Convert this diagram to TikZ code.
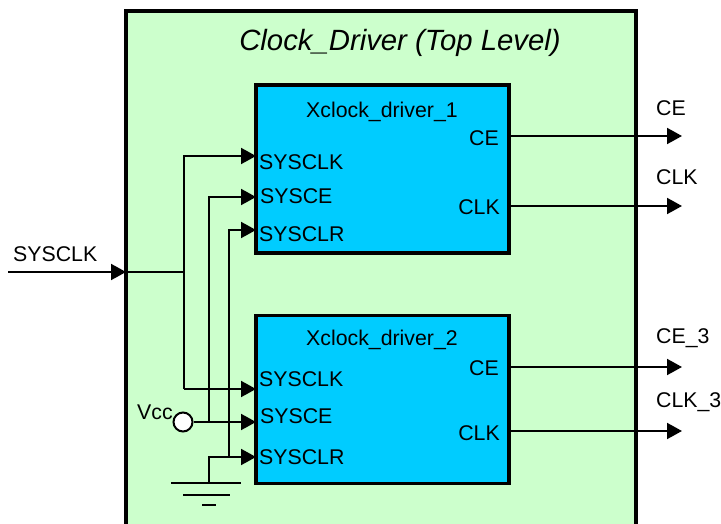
\documentclass[tikz,border=0pt]{standalone}
\usepackage{fontspec}
\setmainfont{Liberation Sans}
\usetikzlibrary{arrows.meta,calc,positioning}
\definecolor{topgreen}{HTML}{CCFFCC}
\definecolor{drvblue}{HTML}{00CCFF}
\tikzset{
  topbox/.style={draw,fill=topgreen,line width=3.5pt},
  drvbox/.style={draw,fill=drvblue,line width=3.5pt,minimum width=253pt,minimum height=168pt,inner sep=0pt},
  wire/.style={line width=2pt},
  sig/.style={wire,-{Triangle[length=15pt,width=16pt]}},
  vccpin/.style={circle,draw,fill=white,line width=2pt,minimum size=19pt,inner sep=0pt},
  txt/.style={inner sep=0pt},
  every node/.style={font=\fontsize{21.3}{24}\selectfont}
}

\begin{document}
\begin{tikzpicture}[x=1pt,y=-1pt]
\useasboundingbox (0,0) rectangle (721,524);
% top level frame, open at the bottom
\begin{scope}
\clip (0,0) rectangle (721,524);
\node[topbox,minimum width=510pt,minimum height=530pt,inner sep=0pt] (top) at (381,276) {};
\end{scope}
\node[txt,font=\fontsize{29.3}{32}\selectfont\itshape] (title) at (400,43) {Clock\_Driver (Top Level)};
% pin on the left and the junctions
\coordinate (in) at (8,272);
\coordinate (inpin) at (126,272);
\coordinate (tap) at (184,272);
% driver blocks
\node[drvbox] (drvA) at (382.5,169) {};
\node[drvbox] (drvB) at (382.5,399.5) {};
\node[txt] (nameA) at (382,112) {Xclock\_driver\_1};
\node[txt] (nameB) at (382,340) {Xclock\_driver\_2};
% ports
\coordinate (clkA) at (256,156);
\coordinate (ceA) at (256,197);
\coordinate (clrA) at (256,230);
\coordinate (clkB) at (256,389);
\coordinate (ceB) at (256,422);
\coordinate (clrB) at (256,457);
\node[txt,anchor=west] (lclkA) at (259,162) {SYSCLK};
\node[txt,anchor=west] (lceA) at (260,196) {SYSCE};
\node[txt,anchor=west] (lclrA) at (259,234) {SYSCLR};
\node[txt,anchor=west] (lclkB) at (259,379) {SYSCLK};
\node[txt,anchor=west] (lceB) at (260,416) {SYSCE};
\node[txt,anchor=west] (lclrB) at (259,457) {SYSCLR};
\node[txt,anchor=east] (lqA) at (499,138) {CE};
\node[txt,anchor=east] (lcA) at (500,207) {CLK};
\node[txt,anchor=east] (lqB) at (499,368) {CE};
\node[txt,anchor=east] (lcB) at (500,433) {CLK};
% outputs
\coordinate (qA) at (509,136);
\coordinate (cA) at (509,206);
\coordinate (qB) at (509,367);
\coordinate (cB) at (509,431);
\coordinate (qAo) at (682,136);
\coordinate (cAo) at (682,206);
\coordinate (qBo) at (682,367);
\coordinate (cBo) at (682,431);
\node[txt,anchor=west] (oqA) at (656,108) {CE};
\node[txt,anchor=west] (ocA) at (656,177) {CLK};
\node[txt,anchor=west] (oqB) at (656,338) {CE\_3};
\node[txt,anchor=west] (ocB) at (656,402) {CLK\_3};
\node[txt,anchor=west] (oin) at (13,254) {SYSCLK};
\draw[sig] (qA) -- (qAo);
\draw[sig] (cA) -- (cAo);
\draw[sig] (qB) -- (qBo);
\draw[sig] (cB) -- (cBo);
% clock in
\draw[sig] (in) -- (inpin);
\draw[wire] (inpin) -- (tap);
\draw[sig] (clkB) ++(-72,0) coordinate (clkturn) |- (clkA);
\draw[sig] (clkturn) -- (clkB);
% tied inputs
\node[vccpin] (vcc) at (183,422) {};
\node[txt,anchor=west] (lvcc) at (137,412) {Vcc};
\coordinate (ceturn) at (209,422);
\draw[sig] (vcc) -- (ceB);
\draw[sig] (ceturn) |- (ceA);
\coordinate (clrturn) at (229,457);
\draw[sig] (clrturn) |- (clrA);
% ground
\coordinate (gnd) at (209,483);
\draw[sig] (gnd) |- (clrB);
\draw[wire] ($(gnd)+(-38,0)$) -- ($(gnd)+(32,0)$);
\draw[wire] ($(gnd)+(-26,12)$) -- ($(gnd)+(21,12)$);
\draw[wire] ($(gnd)+(-7,22)$) -- ($(gnd)+(7,22)$);
\end{tikzpicture}
\end{document}
